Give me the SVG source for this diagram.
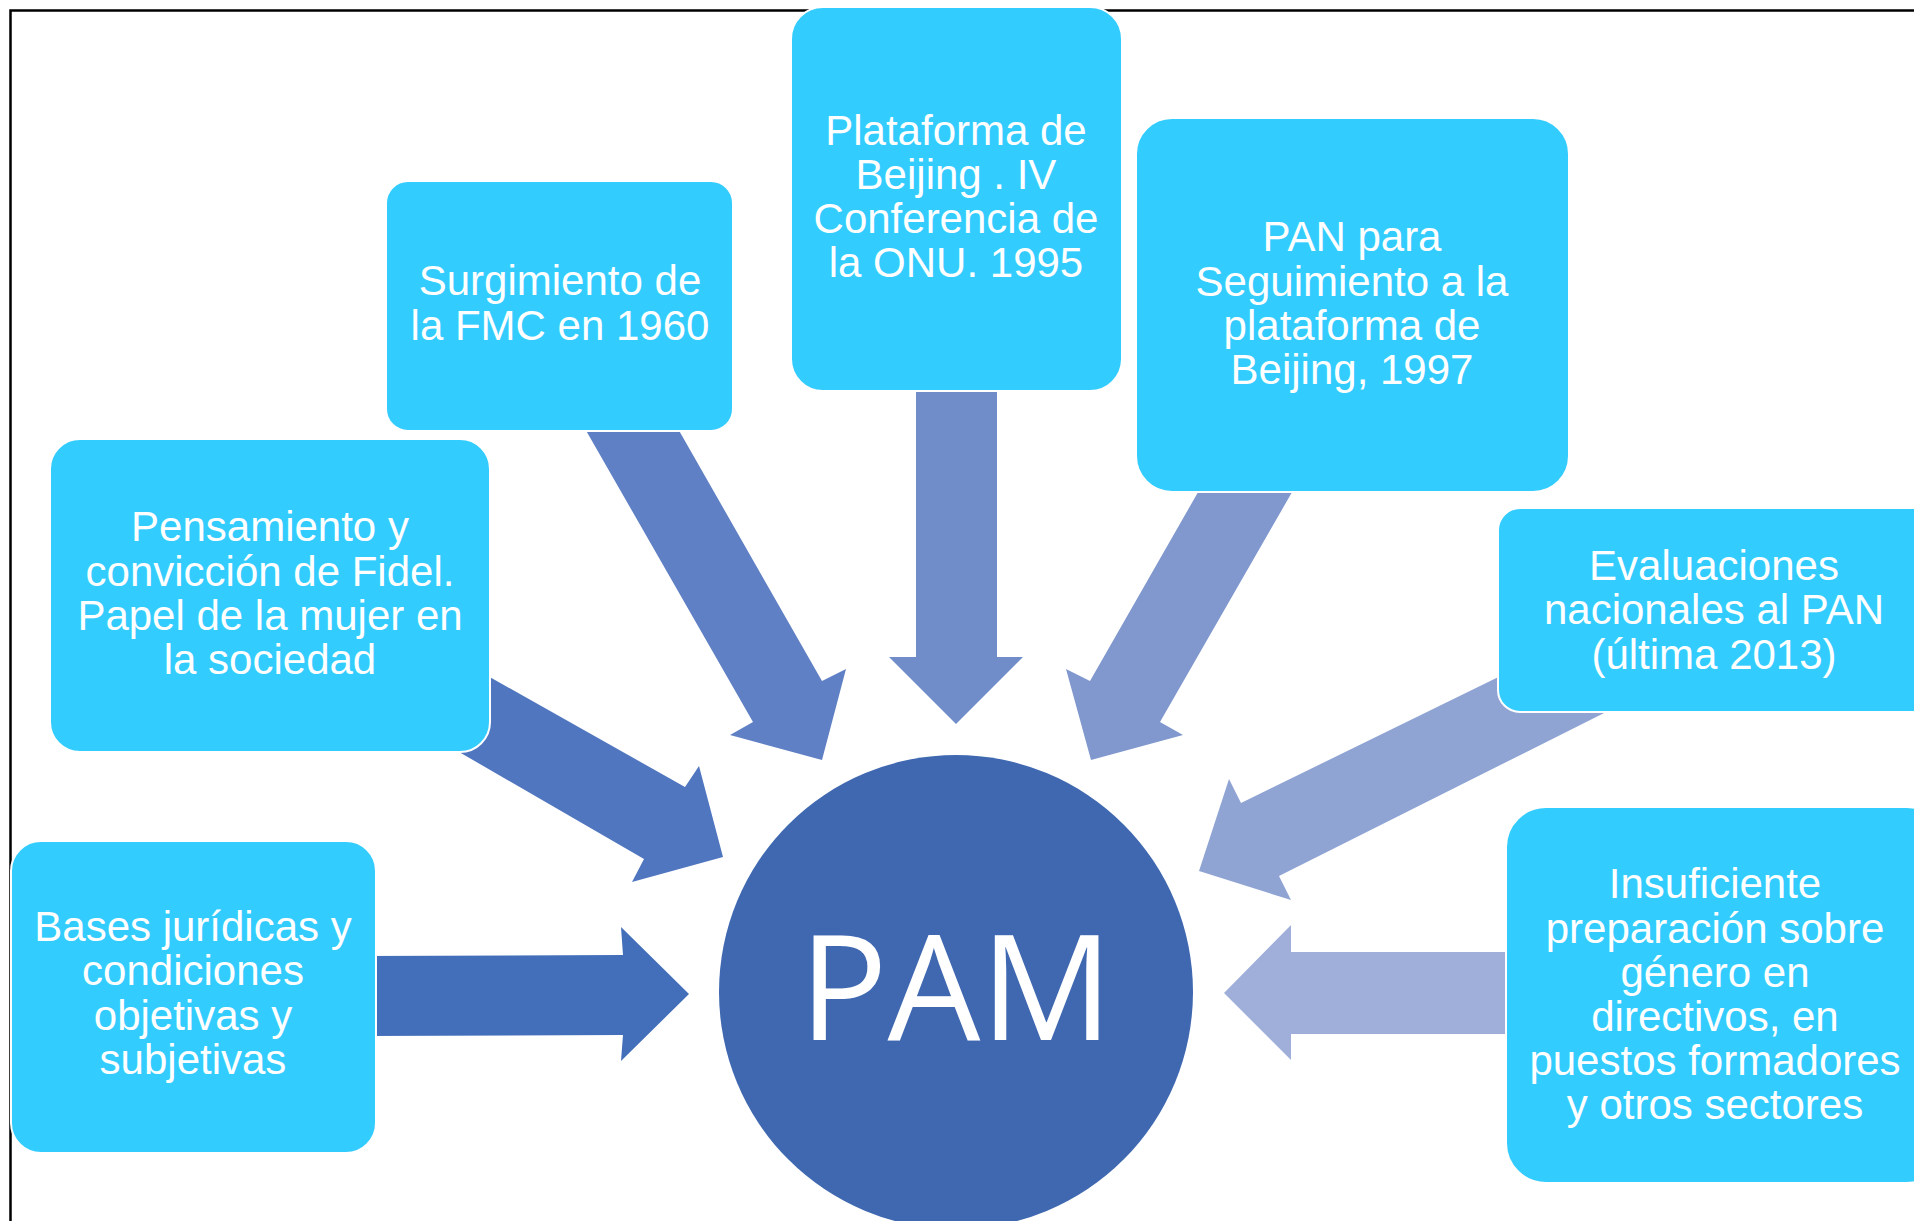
<svg xmlns="http://www.w3.org/2000/svg" width="1914" height="1221" viewBox="0 0 1914 1221">
<style>
.box{fill:#33CCFF;stroke:#FFFFFF;stroke-width:2}
.t{font-family:"Liberation Sans",Arial,sans-serif;font-size:42px;fill:#FFFFFF;text-anchor:middle}
.pam{font-family:"Open Sans",sans-serif;font-size:147px;fill:#FFFFFF;text-anchor:middle}
</style>
<rect width="1914" height="1221" fill="#FFFFFF"/>
<path d="M10.5,1221 V10.5 H1914" fill="none" stroke="#000000" stroke-width="2.5"/>
<g id="connectors">
<polygon fill="#426EBA" points="365,956 623,955 621,927 689,994 621,1061 623,1035 365,1036"/>
<polygon fill="#5076C0" points="456,658 685,787 699,766 723,857 632,882 644,859 428,734"/>
<polygon fill="#6080C5" points="580,420 673,420 822,681 846,669 822,760 730,735 753,722"/>
<polygon fill="#718DC9" points="916,380 997,380 997,657 1023,657 956,724 889,657 916,657"/>
<polygon fill="#8098CE" points="1205,480 1299,480 1160,722 1183,735 1091,760 1066,669 1090,681"/>
<polygon fill="#90A4D4" points="1533,660 1241,803 1229,779 1199,871 1291,900 1279,876 1634,698"/>
<polygon fill="#A0AFD9" points="1520,952 1291,952 1291,925 1224,993 1291,1060 1291,1034 1520,1034"/>
</g>
<g id="node-pam">
<circle cx="956" cy="992" r="237" fill="#3F68B1"/>
<text class="pam" x="956" y="1040">PAM</text>
</g>
<g id="node-surgimiento">
<rect class="box" x="386" y="181" width="347" height="250" rx="22"/>
<text class="t" x="560" y="295">Surgimiento de</text>
<text class="t" x="560" y="340">la FMC en 1960</text>
</g>
<g id="node-plataforma">
<rect class="box" x="791" y="7" width="331" height="384" rx="32"/>
<text class="t" x="956" y="145">Plataforma de</text>
<text class="t" x="956" y="189">Beijing . IV</text>
<text class="t" x="956" y="233">Conferencia de</text>
<text class="t" x="956" y="277">la ONU. 1995</text>
</g>
<g id="node-pan">
<rect class="box" x="1136" y="118" width="433" height="374" rx="36"/>
<text class="t" x="1352" y="251">PAN para</text>
<text class="t" x="1352" y="296">Seguimiento a la</text>
<text class="t" x="1352" y="340">plataforma de</text>
<text class="t" x="1352" y="384">Beijing, 1997</text>
</g>
<g id="node-evaluaciones">
<rect class="box" x="1498" y="508" width="440" height="204" rx="22"/>
<text class="t" x="1714" y="580">Evaluaciones</text>
<text class="t" x="1714" y="624">nacionales al PAN</text>
<text class="t" x="1714" y="669">(última 2013)</text>
</g>
<g id="node-insuficiente">
<rect class="box" x="1506" y="807" width="440" height="376" rx="40"/>
<text class="t" x="1715" y="898">Insuficiente</text>
<text class="t" x="1715" y="943">preparación sobre</text>
<text class="t" x="1715" y="987">género en</text>
<text class="t" x="1715" y="1031">directivos, en</text>
<text class="t" x="1715" y="1075">puestos formadores</text>
<text class="t" x="1715" y="1119">y otros sectores</text>
</g>
<g id="node-pensamiento">
<rect class="box" x="50" y="439" width="440" height="313" rx="30"/>
<text class="t" x="270" y="541">Pensamiento y</text>
<text class="t" x="270" y="586">convicción de Fidel.</text>
<text class="t" x="270" y="630">Papel de la mujer en</text>
<text class="t" x="270" y="674">la sociedad</text>
</g>
<g id="node-bases">
<rect class="box" x="11" y="841" width="365" height="312" rx="30"/>
<text class="t" x="193" y="941">Bases jurídicas y</text>
<text class="t" x="193" y="985">condiciones</text>
<text class="t" x="193" y="1030">objetivas y</text>
<text class="t" x="193" y="1074">subjetivas</text>
</g>
</svg>
